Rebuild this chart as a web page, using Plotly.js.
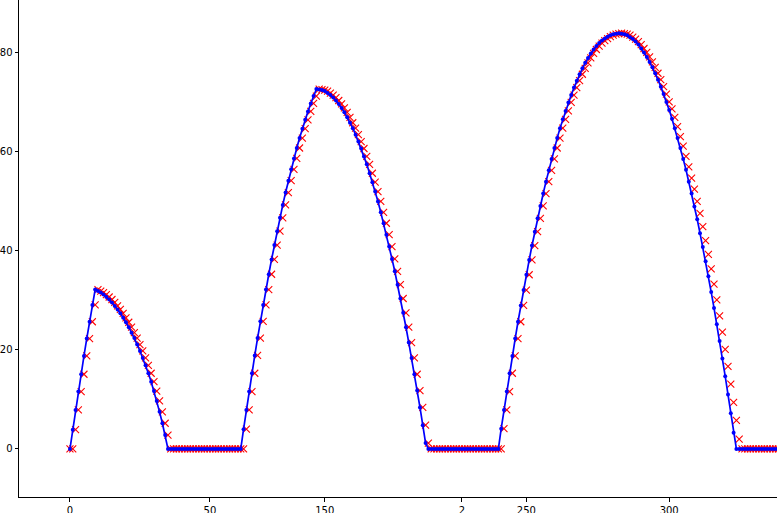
<!DOCTYPE html>
<html>
<head>
<meta charset="utf-8">
<script src="https://cdn.plot.ly/plotly-3.0.1.min.js"></script>
<style>
  html, body { margin: 0; padding: 0; background: #fff; }
  #chart { width: 777px; height: 513px; }
</style>
</head>
<body>
<div id="chart"></div>
<script>
// measured signal (blue dots + line)
const actual = [
  0, 3.9, 7.9, 11.6, 15.1, 18.8, 22.3, 25.7, 29.1, 32.2,
  31.9, 31.6, 31.2, 30.7, 30.2, 29.6, 28.9, 28.2, 27.4, 26.5, 25.6, 24.6, 23.5, 22.4, 21.1, 19.8, 18.4, 16.9, 15.3, 13.6, 11.7, 9.7, 7.5, 5.2, 2.8,
  0, 0, 0, 0, 0, 0, 0, 0, 0, 0, 0, 0, 0, 0, 0, 0, 0, 0, 0, 0, 0, 0, 0, 0, 0, 0, 0,
  4.0, 7.9, 11.6, 15.3, 18.9, 22.4, 25.8, 29.1, 32.2, 35.3, 38.3, 41.2, 44.0, 46.7, 49.3, 51.8, 54.2, 56.5, 58.7, 60.8, 62.8, 64.7, 66.5, 68.2, 69.8, 71.3, 72.7,
  72.6, 72.5, 72.3, 71.9, 71.5, 71.0, 70.4, 69.7, 68.9, 68.0, 67.0, 65.9, 64.8, 63.5, 62.1, 60.7, 59.1, 57.5, 55.7, 53.9, 52.0, 50.0, 47.8, 45.6, 43.3, 40.9, 38.4, 35.9, 33.2, 30.4, 27.5, 24.6, 21.5, 18.4, 15.1, 11.8, 8.4, 4.8, 1.2,
  0, 0, 0, 0, 0, 0, 0, 0, 0, 0, 0, 0, 0, 0, 0, 0, 0, 0, 0, 0, 0, 0, 0, 0, 0, 0,
  4.1, 7.9, 11.6, 15.3, 18.8, 22.3, 25.7, 29.0, 32.1, 35.2, 38.2, 41.1, 43.9, 46.6, 49.1, 51.6, 54.0, 56.3, 58.6, 60.8, 62.8, 64.8, 66.6, 68.3, 70.0, 71.5, 73.0, 74.4, 75.7, 76.9, 78.0, 79.0, 79.9, 80.7, 81.4, 82.0, 82.5, 82.9, 83.3, 83.6, 83.8, 83.9, 84.0,
  83.9, 83.8, 83.6, 83.2, 82.8, 82.3, 81.7, 80.9, 80.1, 79.2, 78.2, 77.1, 75.9, 74.6, 73.2, 71.7, 70.1, 68.5, 66.7, 64.8, 62.8, 60.8, 58.6, 56.4, 54.0, 51.6, 49.0, 46.4, 43.6, 40.8, 37.9, 34.9, 31.7, 28.5, 25.2, 21.8, 18.3, 14.7, 11.0, 7.2, 3.3,
  0, 0, 0, 0, 0, 0, 0, 0, 0, 0, 0, 0, 0, 0, 0, 0, 0, 0
];

// predicted signal (red x markers), trails the measured one
const predicted = [
  0, 0, 3.9, 7.9, 11.6, 15.1, 18.8, 22.3, 25.7, 29.1, 32.2,
  31.9, 31.6, 31.2, 30.7, 30.2, 29.6, 28.9, 28.2, 27.4, 26.5, 25.6, 24.6, 23.5, 22.4, 21.1, 19.8, 18.4, 16.9, 15.3, 13.6, 11.7, 9.7, 7.5, 5.2, 2.8,
  0, 0, 0, 0, 0, 0, 0, 0, 0, 0, 0, 0, 0, 0, 0, 0, 0, 0, 0, 0, 0, 0, 0, 0, 0, 0, 0,
  4.0, 7.9, 11.6, 15.3, 18.9, 22.4, 25.8, 29.1, 32.2, 35.3, 38.3, 41.2, 44.0, 46.7, 49.3, 51.8, 54.2, 56.5, 58.7, 60.8, 62.8, 64.7, 66.5, 68.2, 69.8, 71.3, 72.7,
  72.6, 72.5, 72.3, 71.9, 71.5, 71.0, 70.4, 69.7, 68.9, 68.0, 67.0, 65.9, 64.8, 63.5, 62.1, 60.7, 59.1, 57.5, 55.7, 53.9, 52.0, 50.0, 47.8, 45.6, 43.3, 40.9, 38.4, 35.9, 33.2, 30.4, 27.5, 24.6, 21.5, 18.4, 15.1, 11.8, 8.4, 4.8, 1.2,
  0, 0, 0, 0, 0, 0, 0, 0, 0, 0, 0, 0, 0, 0, 0, 0, 0, 0, 0, 0, 0, 0, 0, 0, 0, 0,
  4.1, 7.9, 11.6, 15.3, 18.8, 22.3, 25.7, 29.0, 32.1, 35.2, 38.2, 41.1, 43.9, 46.6, 49.1, 51.6, 54.0, 56.3, 58.6, 60.8, 62.8, 64.8, 66.6, 68.3, 70.0, 71.5, 73.0, 74.4, 75.7, 76.9, 78.0, 79.0, 79.9, 80.7, 81.4, 82.0, 82.5, 82.9, 83.3, 83.6, 83.8, 83.9, 84.0,
  83.9, 83.8, 83.6, 83.2, 82.8, 82.3, 81.7, 80.9, 80.1, 79.2,
  78.2, 77.1, 75.9, 74.6, 73.2, 71.7, 70.1, 68.7, 67.0, 65.1,
  63.1, 61.2, 59.1, 57.0, 54.7, 52.5, 50.0, 47.6, 44.9, 42.1,
  39.3, 36.4, 33.3, 30.1, 26.9, 23.6, 20.1, 16.7, 13.1, 9.4,
  5.8, 2.0,
  0, 0, 0, 0, 0, 0, 0, 0, 0, 0, 0, 0, 0, 0, 0, 0
];

// x tick labels as they appear on the figure
const xTickVals = [0, 50, 91, 140, 163, 214];
const xTickText = ['0', '50', '150', '2', '250', '300'];
const yTickVals = [0, 20, 40, 60, 80];

const steps = actual.map((_, i) => i);

const traces = [
  {
    type: 'scatter', mode: 'markers', x: steps, y: predicted,
    marker: { symbol: 'x-thin-open', size: 7, color: '#ff0000', line: { color: '#ff0000', width: 1.1 } },
    hoverinfo: 'skip'
  },
  {
    type: 'scatter', mode: 'lines+markers', x: steps, y: actual,
    line: { color: '#0000ff', width: 1.7 },
    marker: { symbol: 'circle', size: 4, color: '#0000ff' },
    hoverinfo: 'skip'
  }
];

const axisCommon = {
  showgrid: false, zeroline: false, showline: true, linecolor: '#000', linewidth: 1,
  ticks: 'outside', ticklen: 3.5, tickwidth: 1, tickcolor: '#000',
  tickfont: { family: 'DejaVu Sans, sans-serif', size: 10, color: '#000' }
};

const layout = {
  width: 777, height: 513,
  paper_bgcolor: '#fff', plot_bgcolor: '#fff',
  margin: { l: 19, r: 0, t: 0, b: 16 },
  showlegend: false,
  xaxis: { ...axisCommon, range: [-18.2, 252.5], tickmode: 'array', tickvals: xTickVals, ticktext: xTickText },
  yaxis: { ...axisCommon, range: [-9.7, 90.7], tickmode: 'array', tickvals: yTickVals }
};

Plotly.newPlot('chart', traces, layout, { displayModeBar: false, staticPlot: true });
</script>
</body>
</html>
